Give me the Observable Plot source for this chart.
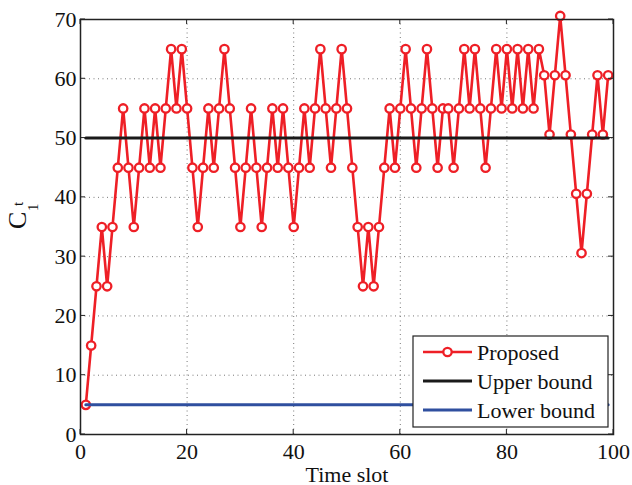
<!DOCTYPE html>
<html>
<head>
<meta charset="utf-8">
<script src="https://cdn.jsdelivr.net/npm/d3@7"></script>
<script src="https://cdn.jsdelivr.net/npm/@observablehq/plot@0.6"></script>
<style>
  html, body { margin: 0; padding: 0; background: #fff; }
  #chart { width: 632px; height: 485px; }
</style>
</head>
<body>
<div id="chart"></div>
<script>
// ---- data ----
const timeSlots = d3.range(1, 100); // 1..99
const proposed = [
  5, 15, 25, 35, 25, 35, 45, 55, 45, 35,
  45, 55, 45, 55, 45, 55, 65, 55, 65, 55,
  45, 35, 45, 55, 45, 55, 65, 55, 45, 35,
  45, 55, 45, 35, 45, 55, 45, 55, 45, 35,
  45, 55, 45, 55, 65, 55, 45, 55, 65, 55,
  45, 35, 25, 35, 25, 35, 45, 55, 45, 55,
  65, 55, 45, 55, 65, 55, 45, 55, 55, 45,
  55, 65, 55, 65, 55, 45, 55, 65, 55, 65,
  55, 65, 55, 65, 55, 65, 60.6, 50.6, 60.6, 70.6,
  60.6, 50.6, 40.6, 30.6, 40.6, 50.6, 60.6, 50.6, 60.6
];
const upperBound = 50;
const lowerBound = 5;
const xTicks = [0, 20, 40, 60, 80, 100];
const yTicks = [0, 10, 20, 30, 40, 50, 60, 70];
const seriesNames = ["Proposed", "Upper bound", "Lower bound"];
const seriesColors = ["#ee1f26", "#1a1a1a", "#2f4f9f"];

const propData = timeSlots.map((t, i) => ({t, v: proposed[i]}));
const upperData = timeSlots.map(t => ({t, v: upperBound}));
const lowerData = timeSlots.map(t => ({t, v: lowerBound}));

const W = 632, H = 485;
const mL = 80, mR = 19, mT = 19, mB = 51;
const FONT = "'Liberation Serif', 'Times New Roman', serif";

const chart = Plot.plot({
  width: W, height: H,
  marginLeft: mL, marginRight: mR, marginTop: mT, marginBottom: mB,
  style: {fontFamily: FONT, fontSize: "22px", background: "#fff", color: "#111", overflow: "visible"},
  x: {domain: [0, 100]},
  y: {domain: [0, 70]},
  marks: [
    Plot.gridX(xTicks.slice(1, -1), {stroke: "#777", strokeOpacity: 1, strokeWidth: 1, strokeDasharray: "1,3.5"}),
    Plot.gridY(yTicks.slice(1, -1), {stroke: "#777", strokeOpacity: 1, strokeWidth: 1, strokeDasharray: "1,3.5"}),
    Plot.axisX(xTicks, {tickSize: 0, tickPadding: 9, fontSize: 22, label: null}),
    Plot.axisY(yTicks, {tickSize: 0, tickPadding: 4, fontSize: 22, label: null}),
    Plot.line(propData, {x: "t", y: "v", stroke: seriesColors[0], strokeWidth: 2.6}),
    Plot.dot(propData, {x: "t", y: "v", r: 4.2, stroke: seriesColors[0], strokeWidth: 2.3, fill: "#fff"}),
    Plot.line(upperData, {x: "t", y: "v", stroke: seriesColors[1], strokeWidth: 3}),
    Plot.line(lowerData, {x: "t", y: "v", stroke: seriesColors[2], strokeWidth: 3}),
    Plot.frame({stroke: "#222", strokeWidth: 1.5}),
    Plot.text(["Time slot"], {frameAnchor: "bottom", dy: 40, lineAnchor: "middle", fontSize: 22, fill: "#111"})
  ]
});

document.getElementById("chart").appendChild(chart);

const svg = d3.select(chart);
const sx = chart.scale("x"), sy = chart.scale("y");
const x0 = sx.apply(0), x1 = sx.apply(100), y0 = sy.apply(0), y1 = sy.apply(70);
const tk = 5;
const tg = svg.append("g").attr("stroke", "#222").attr("stroke-width", 1);
xTicks.forEach(v => {
  const X = sx.apply(v);
  tg.append("line").attr("x1", X).attr("x2", X).attr("y1", y0).attr("y2", y0 - tk);
  tg.append("line").attr("x1", X).attr("x2", X).attr("y1", y1).attr("y2", y1 + tk);
});
yTicks.forEach(v => {
  const Y = sy.apply(v);
  tg.append("line").attr("x1", x0).attr("x2", x0 + tk).attr("y1", Y).attr("y2", Y);
  tg.append("line").attr("x1", x1).attr("x2", x1 - tk).attr("y1", Y).attr("y2", Y);
});

// y label C_1^t
const yl = svg.append("g").attr("transform", `translate(26, 229) rotate(-90)`)
  .attr("font-family", FONT).attr("fill", "#111").attr("text-anchor", "start");
yl.append("text").attr("x", 0).attr("y", 0).attr("font-size", 26).text("C");
yl.append("text").attr("x", 23).attr("y", -3).attr("font-size", 15).text("t");
yl.append("text").attr("x", 18).attr("y", 12).attr("font-size", 15).text("1");

// legend
const lg = svg.append("g").attr("font-family", FONT).attr("text-anchor", "start");
const lx = 413, ly = 336, lw = 195, lh = 91;
lg.append("rect").attr("x", lx).attr("y", ly).attr("width", lw).attr("height", lh)
  .attr("fill", "#fff").attr("stroke", "#222").attr("stroke-width", 1.2);
seriesNames.forEach((name, i) => {
  const cy = ly + 16 + i * 29;
  lg.append("line").attr("x1", lx + 10).attr("x2", lx + 59).attr("y1", cy).attr("y2", cy)
    .attr("stroke", seriesColors[i]).attr("stroke-width", i === 0 ? 2.6 : 3);
  if (i === 0) {
    lg.append("circle").attr("cx", lx + 34.5).attr("cy", cy).attr("r", 4.2)
      .attr("fill", "#fff").attr("stroke", seriesColors[0]).attr("stroke-width", 2.3);
  }
  lg.append("text").attr("x", lx + 64).attr("y", cy).attr("dy", "0.35em")
    .attr("font-size", 22).attr("fill", "#111").text(name);
});
</script>
</body>
</html>
